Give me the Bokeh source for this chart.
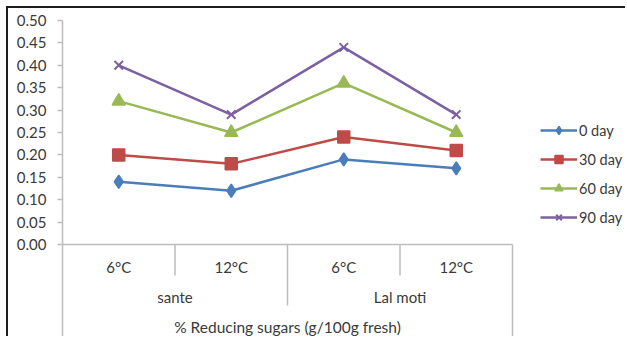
from bokeh.plotting import figure
from bokeh.models import (Range1d, FixedTicker, Legend, LegendItem,
                          ColumnDataSource, NumeralTickFormatter)
from bokeh.core.properties import value
from bokeh.embed import file_html
from bokeh.resources import INLINE

# ---- data ----
groups = ["sante", "Lal moti"]
temps = ["6°C", "12°C"]
categories = ["6°C", "12°C", "6°C", "12°C"]
series_names = ["0 day", "30 day", "60 day", "90 day"]
day0 = [0.14, 0.12, 0.19, 0.17]
day30 = [0.20, 0.18, 0.24, 0.21]
day60 = [0.32, 0.25, 0.36, 0.25]
day90 = [0.40, 0.29, 0.44, 0.29]
y_ticks = [0.00, 0.05, 0.10, 0.15, 0.20, 0.25, 0.30, 0.35, 0.40, 0.45, 0.50]
axis_title = "% Reducing sugars (g/100g fresh)"

FONT = "Lato"
TXT = "#3a3a3a"
AXC = "#bdbdbd"

OFF = 8  # page offset of the canvas (margin + border)
W, H = 627 - OFF, 338 - OFF
left_px, top_px = 62 - OFF, 20 - OFF
cat_px = 112.5
px_per_unit = 448.0
frame_w = W - left_px
frame_h = H - top_px

x_end = frame_w / cat_px
y_end = 0.50
y_start = y_end - frame_h / px_per_unit

p = figure(width=W, height=H, output_backend="svg", toolbar_location=None,
           x_range=Range1d(0, x_end), y_range=Range1d(y_start, y_end),
           x_axis_location=None, min_border_left=left_px, min_border_top=top_px,
           min_border_right=0, min_border_bottom=0)
p.outline_line_color = None
p.grid.visible = False
p.background_fill_color = "white"
p.border_fill_color = "white"
p.styles = {"margin-left": "6px", "margin-top": "6px",
            "border-left": "2px solid #1e1e1e", "border-top": "2px solid #1e1e1e"}

ya = p.yaxis[0]
ya.ticker = FixedTicker(ticks=y_ticks)
ya.formatter = NumeralTickFormatter(format="0.00")
ya.axis_line_color = AXC
ya.axis_line_width = 1.5
ya.major_tick_line_color = AXC
ya.major_tick_line_width = 1.5
ya.major_tick_out = 5
ya.major_tick_in = 0
ya.minor_tick_line_color = None
ya.major_label_text_font = FONT
ya.major_label_text_font_size = "15px"
ya.major_label_text_color = TXT
ya.major_label_standoff = 11

n = len(categories)
xs = [i + 0.5 for i in range(n)]

# horizontal category axis line at y=0
p.segment(x0=[0], y0=[0], x1=[n], y1=[0], line_color=AXC, line_width=1.5)
# separators
lvl1 = -31 / px_per_unit
lvl2 = -61 / px_per_unit
sep_x = list(range(1, n + 1))
sep_y = []
for k in sep_x:
    if k == n:
        sep_y.append(y_start)
    elif k % len(temps) == 0:
        sep_y.append(lvl2)
    else:
        sep_y.append(lvl1)
p.segment(x0=sep_x, y0=[0] * n, x1=sep_x, y1=sep_y, line_color=AXC, line_width=1.5)

# labels
p.text(x=xs, y=[-22 / px_per_unit] * n, text=categories, text_font=value(FONT),
       text_align="center", text_baseline="middle", text_font_size="15px", text_color=TXT)
gx = [len(temps) * (g + 0.5) for g in range(len(groups))]
p.text(x=gx, y=[-52 / px_per_unit] * len(groups), text=groups, text_font=value(FONT),
       text_align="center", text_baseline="middle", text_font_size="15px", text_color=TXT)
p.text(x=[n / 2], y=[-82 / px_per_unit], text=[axis_title], text_font=value(FONT),
       text_align="center", text_baseline="middle", text_font_size="15.5px", text_color=TXT)

# series
colors = ["#4a7ebb", "#be4b48", "#98b954", "#7d60a0"]
markers = ["diamond", "square", "triangle", "x"]
sizes = [13, 12, 13, 12]
data = [day0, day30, day60, day90]
items = []
for name, vals, c, m, s in zip(series_names, data, colors, markers, sizes):
    src = ColumnDataSource(dict(x=xs, y=vals))
    l = p.line("x", "y", source=src, line_color=c, line_width=2.5)
    sc = p.scatter("x", "y", source=src, marker=m, size=s, fill_color=c,
                   line_color=c, line_width=1.5 if m != "x" else 2)
    items.append(LegendItem(label=name, renderers=[l, sc]))

leg = Legend(items=items, location=(540 - 62, 338 - 227), orientation="vertical",
             label_text_font=FONT, label_text_font_size="14.5px", label_text_color=TXT,
             glyph_width=37, glyph_height=20, label_height=20, spacing=9,
             label_standoff=2, padding=0, margin=0, border_line_color=None,
             background_fill_alpha=0)
p.add_layout(leg, "center")

open("out.html", "w").write(file_html(p, INLINE))
